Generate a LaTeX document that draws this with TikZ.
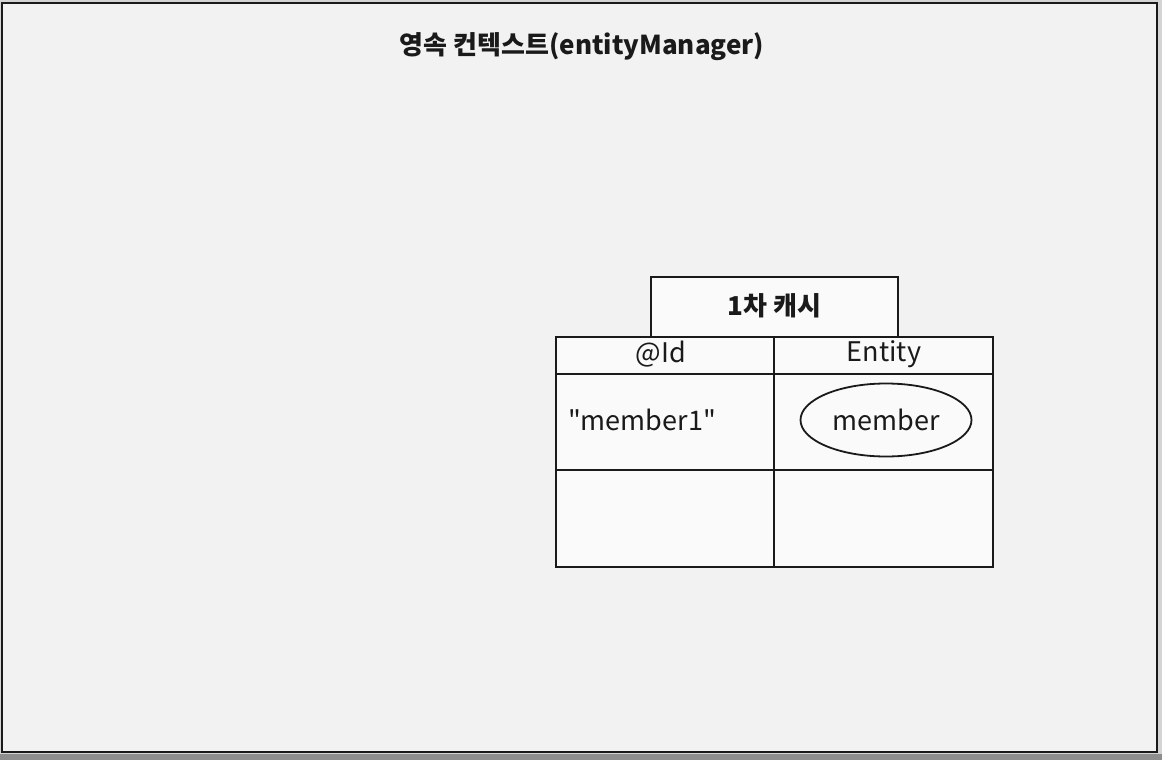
\documentclass[tikz,border=0pt]{standalone}
\usepackage{fontspec}
\setmainfont{Noto Sans CJK KR}[Ligatures=TeXOff]
\usetikzlibrary{shapes.geometric}
\definecolor{paper}{HTML}{F2F2F2}
\definecolor{edge}{HTML}{8E8E8E}
\definecolor{ink}{HTML}{1A1A1A}
\tikzset{
  cell/.style={draw=ink, line width=2.2pt, rectangle, inner sep=0pt, fill=white!60!paper},
  lbl/.style={text=ink, font=\fontsize{27}{30}\selectfont, inner sep=0pt},
  ttl/.style={text=ink, font=\fontsize{26}{29}\selectfont\bfseries, inner sep=0pt},
  frame/.style={draw=ink, line width=2.5pt, rectangle, inner sep=0pt, fill=paper},
  oval/.style={draw=ink, line width=1.8pt, ellipse, inner sep=0pt}
}
\begin{document}
\begin{tikzpicture}[x=1pt, y=-1pt]
\useasboundingbox (0,0) rectangle (1162,760);
\fill[edge] (0,0) rectangle (1162,760);
\fill[paper!70!edge] (0,0) rectangle (1162,754);
\node[frame, minimum width=1155pt, minimum height=749pt] (box) at (579.5,377.5) {};
\node[ttl] (title) at (582,47) {영속 컨텍스트(entityManager)};
\node[cell, minimum width=247pt, minimum height=60pt] (cache) at (774.5,307) {};
\node[ttl] (cachelbl) at (774.5,306) {1차 캐시};
\node[cell, minimum width=218pt, minimum height=37pt] (idhead) at (665,355.5) {};
\node[cell, minimum width=219pt, minimum height=37pt] (enthead) at (883.5,355.5) {};
\node[cell, minimum width=218pt, minimum height=96pt] (id1) at (665,422) {};
\node[cell, minimum width=219pt, minimum height=96pt] (ent1) at (883.5,422) {};
\node[cell, minimum width=218pt, minimum height=97pt] (id2) at (665,518.5) {};
\node[cell, minimum width=219pt, minimum height=97pt] (ent2) at (883.5,518.5) {};
\node[lbl] (idlbl) at (661,354) {@Id};
\node[lbl] (entlbl) at (884,354) {Entity};
\node[lbl] (key) at (642,420) {"member1"};
\node[oval, minimum width=171pt, minimum height=73pt] (obj) at (886,420) {};
\node[lbl] (objlbl) at (obj.center) {member};
\end{tikzpicture}
\end{document}
